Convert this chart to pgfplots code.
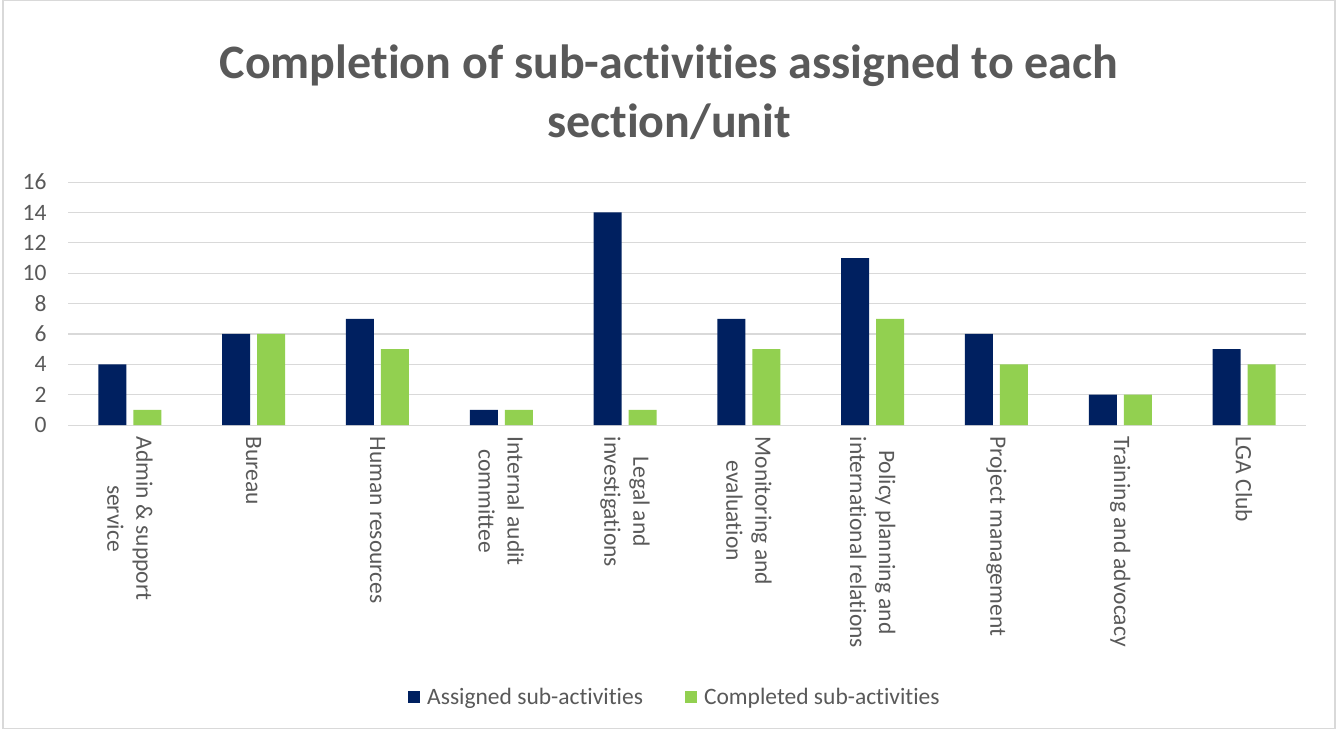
\documentclass[border=0pt]{standalone}
\usepackage{pgfplots}
\pgfplotsset{compat=1.18}
\usepackage{fontspec}
\setmainfont{Carlito}[Ligatures=NoCommon]
\definecolor{navy}{HTML}{002060}
\definecolor{lgreen}{HTML}{92D050}
\definecolor{txtgray}{HTML}{595959}
\definecolor{gridgray}{HTML}{D9D9D9}
\begin{document}
\begin{tikzpicture}[x=1pt,y=1pt]
  \path (0,0) rectangle (1338,729);
  \draw[gridgray, line width=1.2pt] (3,0.5) rectangle (1335,728.5);
  \node[align=center, text=txtgray, font=\fontsize{48}{59}\selectfont\bfseries]
    at (669,637) {Completion of sub-activities assigned to each\\section/unit};
  \begin{axis}[
    at={(68pt,304pt)}, anchor=south west,
    scale only axis, width=1238pt, height=243pt,
    ybar=7pt, bar width=28pt,
    xmin=-0.5, xmax=9.5, ymin=0, ymax=16,
    ytick={0,2,...,16},
    xtick=data,
    xticklabels={{Admin \& support\\service}, Bureau, Human resources,
      {Internal audit\\committee}, {Legal and\\investigations},
      {Monitoring and\\evaluation}, {Policy planning and\\international relations},
      Project management, Training and advocacy, LGA Club},
    xticklabel style={rotate=-90, anchor=west, align=center, text=txtgray,
      font=\fontsize{23.5}{29}\selectfont, xshift=8pt},
    yticklabel style={text=txtgray, font=\fontsize{23.5}{28}\selectfont, xshift=-18pt},
    /pgf/number format/assume math mode=true,
    major tick length=0pt,
    ymajorgrids, grid style={gridgray, line width=1.2pt},
    axis x line*=bottom, axis y line*=left,
    x axis line style={gridgray, line width=1.2pt, -},
    y axis line style={draw=none},
    separate axis lines,
    legend columns=2,
    legend style={at={(0.4903,-1.119)}, anchor=center, draw=none,
      font=\fontsize{23.5}{28}\selectfont, text=txtgray,
      /tikz/every even column/.append style={column sep=40pt}},
    legend image code/.code={\fill[#1] (0pt,-6pt) rectangle (12pt,6pt);
      \path (17pt,0pt);},
  ]
    \addplot[fill=navy, draw=none] coordinates {
      (0,4) (1,6) (2,7) (3,1) (4,14) (5,7) (6,11) (7,6) (8,2) (9,5)};
    \addplot[fill=lgreen, draw=none] coordinates {
      (0,1) (1,6) (2,5) (3,1) (4,1) (5,5) (6,7) (7,4) (8,2) (9,4)};
    \legend{Assigned sub-activities, Completed sub-activities}
  \end{axis}
\end{tikzpicture}
\end{document}
